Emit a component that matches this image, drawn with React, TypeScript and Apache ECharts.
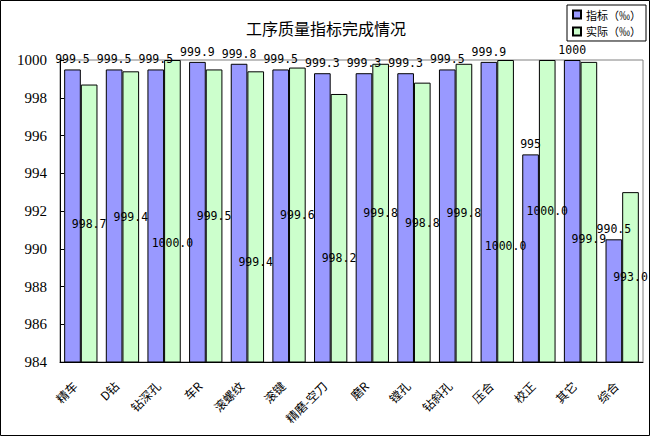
import React, { useEffect, useRef } from "react";
import * as echarts from "echarts";

const categories = [
  "精车", "D钻", "钻深孔", "车R", "滚螺纹", "滚键", "精磨-空刀",
  "磨R", "镗孔", "钻斜孔", "压合", "校正", "其它", "综合",
];
const targetValues = [999.5, 999.5, 999.5, 999.9, 999.8, 999.5, 999.3, 999.3, 999.3, 999.5, 999.9, 995, 1000, 990.5];
const actualValues = [998.7, 999.4, 1000.0, 999.5, 999.4, 999.6, 998.2, 999.8, 998.8, 999.8, 1000.0, 1000.0, 999.9, 993.0];
const yTicks = { min: 984, max: 1000, interval: 2 };
// vertical shift of the "actual" labels (style only)
const actualLabelShift = [0, 0, 32, 0, 45, 0, 30, 0, 0, 0, 35, 0, 27, 0];

const monoFont = "'DejaVu Sans Mono', monospace";
const cjkFont = "'Noto Sans CJK SC', sans-serif";

export default function App() {
  const ref = useRef<HTMLDivElement>(null);
  useEffect(() => {
    if (!ref.current) return;
    const chart = echarts.init(ref.current, undefined, { renderer: "svg" });
    chart.setOption({
      animation: false,
      backgroundColor: "#fff",
      title: {
        text: "工序质量指标完成情况",
        left: "center",
        top: 15,
        textStyle: { fontFamily: cjkFont, fontWeight: "normal", fontSize: 16, color: "#000" },
      },
      legend: {
        orient: "vertical",
        right: 6,
        top: 5,
        backgroundColor: "#fff",
        borderColor: "#000",
        borderWidth: 1,
        padding: [4, 5, 4, 5],
        itemWidth: 8,
        itemHeight: 8,
        itemGap: 6,
        icon: "rect",
        textStyle: { fontFamily: cjkFont, fontSize: 11, color: "#000" },
        data: ["指标（‰）", "实际（‰）"],
      },
      grid: {
        left: 60,
        top: 60,
        width: 583,
        height: 302,
        show: true,
        borderColor: "#808080",
        borderWidth: 1,
        backgroundColor: "transparent",
      },
      xAxis: {
        type: "category",
        data: categories,
        axisLine: { lineStyle: { color: "#000", width: 1 } },
        axisTick: { inside: true, length: 4, alignWithLabel: false, lineStyle: { color: "#000" } },
        axisLabel: {
          interval: 0,
          rotate: 45,
          margin: 15,
          padding: [0, 9, 0, 0],
          fontFamily: cjkFont,
          fontSize: 12,
          color: "#000",
        },
        splitLine: { show: false },
      },
      yAxis: {
        type: "value",
        min: yTicks.min,
        max: yTicks.max,
        interval: yTicks.interval,
        axisLine: { show: true, lineStyle: { color: "#000", width: 1 } },
        axisTick: { show: true, inside: true, length: 4, lineStyle: { color: "#000" } },
        axisLabel: {
          fontFamily: "'Liberation Serif', serif",
          fontSize: 15,
          color: "#000",
          margin: 13,
          formatter: (v: number) => String(v),
        },
        splitLine: { show: false },
      },
      series: [
        {
          name: "指标（‰）",
          type: "bar",
          data: targetValues,
          barGap: "0%",
          barCategoryGap: "20%",
          itemStyle: { color: "#9999FF", borderColor: "#000", borderWidth: 1 },
          label: {
            show: true,
            position: "top",
            distance: 4,
            fontFamily: monoFont,
            fontSize: 11.5,
            color: "#000",
            textBorderWidth: 0,
            formatter: (p: any) => String(p.value),
          },
        },
        {
          name: "实际（‰）",
          type: "bar",
          data: actualValues.map((v, i) => ({
            value: v,
            label: { offset: [0, actualLabelShift[i]] },
          })),
          barGap: "0%",
          barCategoryGap: "20%",
          itemStyle: { color: "#CCFFCC", borderColor: "#000", borderWidth: 1 },
          label: {
            show: true,
            position: "inside",
            fontFamily: monoFont,
            fontSize: 11.5,
            color: "#000",
            textBorderWidth: 0,
            formatter: (p: any) => Number(p.value).toFixed(1),
          },
        },
      ],
      graphic: [
        {
          type: "rect",
          shape: { x: 0.5, y: 0.5, width: 649, height: 435 },
          style: { fill: "none", stroke: "#000", lineWidth: 1 },
          silent: true,
          z: 100,
        },
      ],
    });
    return () => chart.dispose();
  }, []);
  return (
    <div
      ref={ref}
      style={{ position: "fixed", left: 0, top: 0, width: 652, height: 437 }}
    />
  );
}
